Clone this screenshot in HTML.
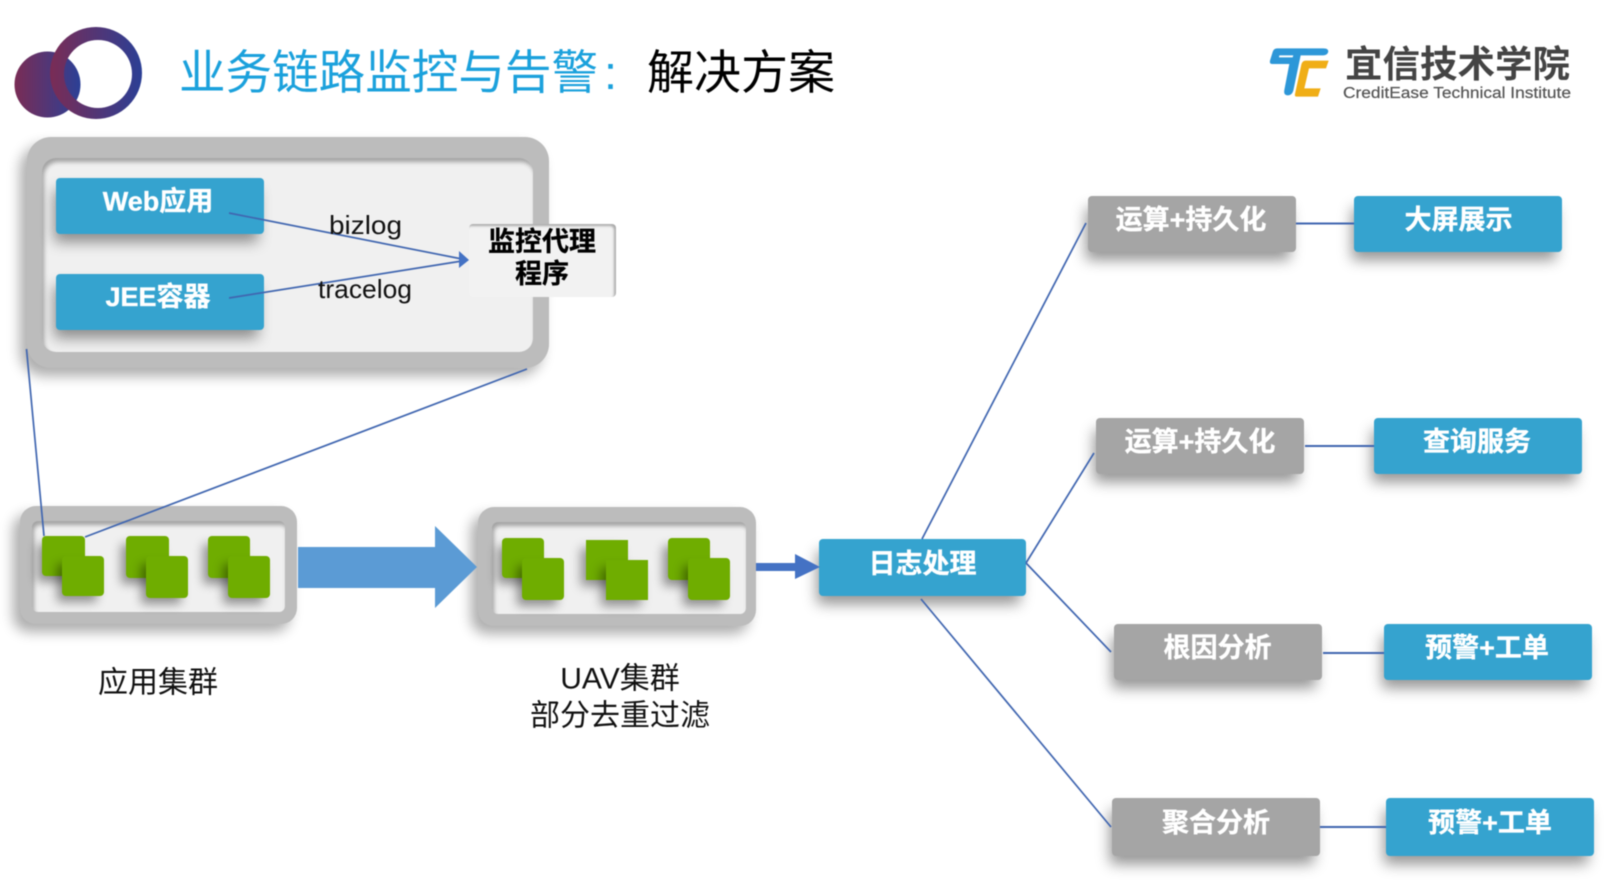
<!DOCTYPE html>
<html><head><meta charset="utf-8"><style>
html,body{margin:0;padding:0;background:#fff}
#p{position:relative;width:1606px;height:888px;overflow:hidden;background:#fff;font-family:"Liberation Sans","Noto Sans CJK SC",sans-serif;filter:blur(.45px)}
.b{position:absolute;border-radius:4px;box-sizing:border-box}
.blue{background:#35a3cf;box-shadow:-4px 10px 14px -2px rgba(0,0,0,.42)}
.gray{background:#a5a5a5;box-shadow:-4px 10px 14px -2px rgba(0,0,0,.42)}
.g{position:absolute;background:#6fad00;border-radius:4px;box-shadow:-6px 7px 10px -1px rgba(0,0,0,.4)}
.frame{position:absolute;background:#bcbcbc;box-shadow:-7px 8px 13px rgba(0,0,0,.32)}
.in{position:absolute;background:#f0f0f0;box-shadow:inset 2px 4px 4px rgba(0,0,0,.32)}
svg{position:absolute;left:0;top:0}
text{font-family:"Liberation Sans","Noto Sans CJK SC",sans-serif}
.w{fill:#fff;stroke:#fff;stroke-width:.35px;font-weight:700;font-size:27px}
.k{fill:#000;stroke:#000;stroke-width:.3px;font-weight:700;font-size:27px}
.r{fill:#111;font-size:30px}
.l{fill:#111;font-size:26px}
</style></head><body><div id="p">

<div class="frame" style="left:27px;top:137px;width:522px;height:231px;border-radius:24px"></div>
<div class="in" style="left:42px;top:158px;width:491px;height:194px;border-radius:14px"></div>
<div class="b blue" style="left:56px;top:178px;width:208px;height:56px"></div>
<div class="b blue" style="left:56px;top:274px;width:208px;height:56px"></div>
<div class="b" style="left:469px;top:224px;width:147px;height:73px;background:#f2f2f2;box-shadow:inset -2px 2px 2px #aaa"></div>

<div class="frame" style="left:20px;top:506px;width:277px;height:118px;border-radius:16px"></div>
<div class="in" style="left:32px;top:521px;width:253px;height:91px;border-radius:6px"></div>
<div class="g" style="left:42px;top:536px;width:43px;height:40px"></div>
<div class="g" style="left:62px;top:556px;width:42px;height:40px"></div>
<div class="g" style="left:126px;top:536px;width:43px;height:42px"></div>
<div class="g" style="left:146px;top:556px;width:42px;height:42px"></div>
<div class="g" style="left:208px;top:536px;width:42px;height:42px"></div>
<div class="g" style="left:228px;top:556px;width:42px;height:42px"></div>

<div class="frame" style="left:478px;top:507px;width:278px;height:119px;border-radius:16px"></div>
<div class="in" style="left:492px;top:522px;width:254px;height:92px;border-radius:6px"></div>
<div class="g" style="left:502px;top:538px;width:42px;height:40px"></div>
<div class="g" style="left:522px;top:558px;width:42px;height:42px"></div>
<div class="g" style="left:586px;top:540px;width:42px;height:40px;border-radius:0"></div>
<div class="g" style="left:606px;top:560px;width:42px;height:40px;border-radius:0"></div>
<div class="g" style="left:668px;top:538px;width:42px;height:42px"></div>
<div class="g" style="left:688px;top:558px;width:42px;height:42px"></div>

<div class="b blue" style="left:819px;top:539px;width:207px;height:57px"></div>
<div class="b gray" style="left:1088px;top:196px;width:208px;height:56px"></div>
<div class="b blue" style="left:1354px;top:196px;width:208px;height:56px"></div>
<div class="b gray" style="left:1096px;top:418px;width:208px;height:56px"></div>
<div class="b blue" style="left:1374px;top:418px;width:208px;height:56px"></div>
<div class="b gray" style="left:1114px;top:624px;width:208px;height:56px"></div>
<div class="b blue" style="left:1384px;top:624px;width:208px;height:56px"></div>
<div class="b gray" style="left:1112px;top:798px;width:208px;height:58px"></div>
<div class="b blue" style="left:1386px;top:798px;width:208px;height:58px"></div>

<svg width="1606" height="888" viewBox="0 0 1606 888">
<defs>
<linearGradient id="a" x1="0" x2="1" y1="0" y2="0"><stop offset="0" stop-color="#7a2c55"/><stop offset="1" stop-color="#2b4096"/></linearGradient>
<linearGradient id="c" gradientUnits="userSpaceOnUse" x1="50" x2="142" y1="0" y2="0"><stop offset="0" stop-color="#7a2c55"/><stop offset="1" stop-color="#2b3f95"/></linearGradient>
</defs>
<circle cx="47.500" cy="84.500" r="33" fill="url(#a)"/>
<path fill-rule="evenodd" fill="url(#c)" d="M96 27A46 46 0 1 1 96 119A46 46 0 1 1 96 27ZM98 40A34 34 0 1 0 98 108A34 34 0 1 0 98 40Z"/>

<text x="179" y="89" font-size="47" fill="#1ba1dc" textLength="419" lengthAdjust="spacingAndGlyphs">业务链路监控与告警</text>
<text x="604" y="89" font-size="47" fill="#1ba1dc">:</text>
<text x="647" y="89" font-size="47" fill="#000" textLength="188" lengthAdjust="spacingAndGlyphs">解决方案</text>

<g transform="translate(1260 40) scale(.3333)">
<path fill="#2d97d8" d="M52 25H190Q208 25 204 38Q200 46 190 46H122L100 152Q96 166 84 166Q70 166 73 150L88 72H36Q28 72 30 62L38 36Q41 25 52 25Z"/>
<path fill="#fff" d="M58 46H100L98 52H57Z"/>
<path fill="#f0ae16" d="M137 62H206L198 85H147L133 145H182L174 170H110Q103 170 105 162L124 74Q127 62 137 62Z"/>
</g>
<text x="1345" y="77" font-size="37" font-weight="700" fill="#444" textLength="225" lengthAdjust="spacingAndGlyphs">宜信技术学院</text>
<text x="1343" y="98" font-size="15.500" fill="#555" stroke="#555" stroke-width=".2" textLength="228" lengthAdjust="spacingAndGlyphs">CreditEase Technical Institute</text>

<g stroke="#4066b0" stroke-width="1.700" fill="none">
<line x1="229" y1="213" x2="462" y2="259"/>
<line x1="229" y1="298" x2="462" y2="261"/>
<line x1="26.500" y1="349" x2="44" y2="536"/>
<line x1="527" y1="369" x2="85" y2="537"/>
<line x1="922" y1="539" x2="1086" y2="223"/>
<line x1="1026" y1="563" x2="1094" y2="453"/>
<line x1="1026" y1="563" x2="1111" y2="652"/>
<line x1="921" y1="599" x2="1111" y2="827"/>
<line x1="1296" y1="223.500" x2="1354" y2="223.500" stroke-width="2"/>
<line x1="1305" y1="446" x2="1374" y2="446" stroke-width="2"/>
<line x1="1323" y1="653" x2="1384" y2="653" stroke-width="2"/>
<line x1="1320" y1="827" x2="1386" y2="827" stroke-width="2"/>
</g>
<polygon points="459,251 469,260 459,268" fill="#4472c4"/>

<polygon points="298,547 435,547 435,526 477,567 435,608 435,588 298,588" fill="#5b9bd5"/>
<polygon points="756,563 795,563 795,554 820,567 795,579 795,571 756,571" fill="#4472c4"/>

<text class="w" x="158" y="201.500" text-anchor="middle" dominant-baseline="central">Web应用</text>
<text class="w" x="158" y="297" text-anchor="middle" dominant-baseline="central">JEE容器</text>
<text class="k" x="542" y="242" text-anchor="middle" dominant-baseline="central">监控代理</text>
<text class="k" x="542" y="274" text-anchor="middle" dominant-baseline="central">程序</text>
<text class="l" x="329" y="234" textLength="73" lengthAdjust="spacingAndGlyphs">bizlog</text>
<text class="l" x="318" y="298" textLength="94" lengthAdjust="spacingAndGlyphs">tracelog</text>

<text class="r" x="158" y="683" text-anchor="middle" dominant-baseline="central">应用集群</text>
<text class="r" x="620" y="679" text-anchor="middle" dominant-baseline="central">UAV集群</text>
<text class="r" x="620" y="716" text-anchor="middle" dominant-baseline="central">部分去重过滤</text>

<text class="w" x="922.500" y="564" text-anchor="middle" dominant-baseline="central">日志处理</text>
<text class="w" x="1191" y="220" text-anchor="middle" dominant-baseline="central">运算+持久化</text>
<text class="w" x="1458.500" y="220" text-anchor="middle" dominant-baseline="central">大屏展示</text>
<text class="w" x="1200" y="442" text-anchor="middle" dominant-baseline="central">运算+持久化</text>
<text class="w" x="1477" y="442" text-anchor="middle" dominant-baseline="central">查询服务</text>
<text class="w" x="1217.500" y="648" text-anchor="middle" dominant-baseline="central">根因分析</text>
<text class="w" x="1487" y="648" text-anchor="middle" dominant-baseline="central">预警+工单</text>
<text class="w" x="1216" y="823" text-anchor="middle" dominant-baseline="central">聚合分析</text>
<text class="w" x="1490" y="823" text-anchor="middle" dominant-baseline="central">预警+工单</text>
</svg>
</div></body></html>
